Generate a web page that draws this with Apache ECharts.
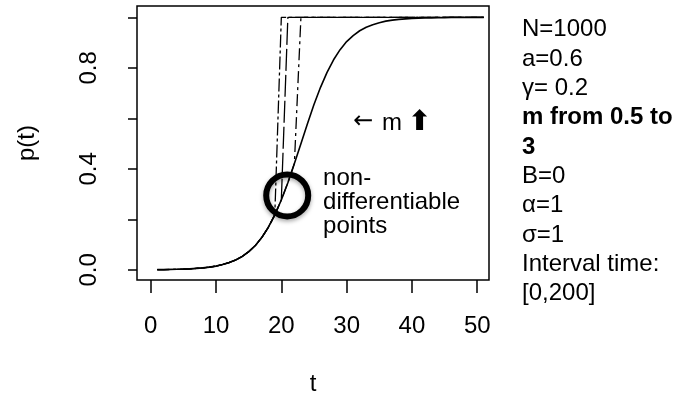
<!DOCTYPE html>
<html>
<head>
<meta charset="utf-8">
<script src="https://cdn.jsdelivr.net/npm/echarts@6/dist/echarts.min.js"></script>
<style>
  html, body { margin: 0; padding: 0; background: #fff; }
  #chart { width: 693px; height: 395px; }
</style>
</head>
<body>
<div id="chart"></div>
<script>
// ---- data ----
const tValues = [1,2,3,4,5,6,7,8,9,10,11,12,13,14,15,16,17,18,19,20,21,22,23,24,25,26,27,28,29,30,31,32,33,34,35,36,37,38,39,40,41,42,43,44,45,46,47,48,49,50,51];
const pSmooth = [0.001,0.0012,0.0017,0.0023,0.003,0.004,0.006,0.008,0.011,0.015,
                 0.021,0.029,0.039,0.053,0.072,0.096,0.128,0.168,0.218,0.277,
                 0.345,0.421,0.5,0.579,0.655,0.723,0.782,0.832,0.872,0.904,
                 0.928,0.947,0.961,0.971,0.979,0.985,0.989,0.992,0.994,0.996,
                 0.997,0.998,0.998,0.999,0.999,1,1,1,1,1,1];
const pDashA = [0.001,0.0012,0.0017,0.0023,0.003,0.004,0.006,0.008,0.011,0.015,
                0.021,0.029,0.039,0.053,0.072,0.096,0.128,0.168,0.218,1,
                1,1,1,1,1,1,1,1,1,1,
                1,1,1,1,1,1,1,1,1,1,
                1,1,1,1,1,1,1,1,1,1,1];
const pDashB = [0.001,0.0012,0.0017,0.0023,0.003,0.004,0.006,0.008,0.011,0.015,
                0.021,0.029,0.039,0.053,0.072,0.096,0.128,0.168,0.218,0.277,
                1,1,1,1,1,1,1,1,1,1,
                1,1,1,1,1,1,1,1,1,1,
                1,1,1,1,1,1,1,1,1,1,1];
const pDashC = [0.001,0.0012,0.0017,0.0023,0.003,0.004,0.006,0.008,0.011,0.015,
                0.021,0.029,0.039,0.053,0.072,0.096,0.128,0.168,0.218,0.277,
                0.345,0.421,1,1,1,1,1,1,1,1,
                1,1,1,1,1,1,1,1,1,1,
                1,1,1,1,1,1,1,1,1,1,1];
const xTicks = [0, 10, 20, 30, 40, 50];
const yTicks = [0, 0.2, 0.4, 0.6, 0.8, 1.0];
const yLabels = [0, 0.4, 0.8];
const sideNotes = ['N=1000', 'a=0.6', 'γ= 0.2', 'm from 0.5 to', '3', 'B=0', 'α=1', 'σ=1', 'Interval time:', '[0,200]'];
const boldNotes = ['m from 0.5 to', '3'];
const noteLines = ['non-', 'differentiable', 'points'];

const FONT = '"Liberation Sans", Arial, Helvetica, sans-serif';

function pairs(ys) { return tValues.map((t, i) => [t, ys[i]]); }

const chart = echarts.init(document.getElementById('chart'), null, { renderer: 'canvas' });

const option = {
  backgroundColor: '#fff',
  animation: false,
  textStyle: { fontFamily: FONT },
  grid: {
    left: 137, right: 204, top: 6, bottom: 115,
    outerBoundsMode: 'none', containLabel: false,
    show: true, borderColor: '#000', borderWidth: 1.5, backgroundColor: 'transparent'
  },
  xAxis: {
    type: 'value', min: -2.1, max: 51.8,
    name: 't', nameLocation: 'middle', nameGap: 92,
    nameTextStyle: { fontSize: 24, color: '#000', fontFamily: FONT },
    axisLine: { show: false, onZero: false },
    splitLine: { show: false },
    axisTick: { show: true, inside: false, length: 13, customValues: xTicks, lineStyle: { color: '#000', width: 1.5 } },
    axisLabel: { customValues: xTicks, margin: 34, fontSize: 24, color: '#000', fontFamily: FONT,
      formatter: v => String(v) }
  },
  yAxis: {
    type: 'value', min: -0.04, max: 1.045,
    name: 'p(t)', nameLocation: 'middle', nameGap: 98,
    nameTextStyle: { fontSize: 24, color: '#000', fontFamily: FONT },
    axisLine: { show: false, onZero: false },
    splitLine: { show: false },
    axisTick: { show: true, inside: false, length: 9, customValues: yTicks, lineStyle: { color: '#000', width: 1.5 } },
    axisLabel: { customValues: yLabels, rotate: 90, margin: 36, fontSize: 24, color: '#000', fontFamily: FONT,
      formatter: v => Number(v).toFixed(1) }
  },
  series: [
    { type: 'line', data: pairs(pDashA), showSymbol: false, symbol: 'none',
      lineStyle: { color: '#000', width: 1.3, type: [13, 3, 3, 3] } },
    { type: 'line', data: pairs(pDashB), showSymbol: false, symbol: 'none',
      lineStyle: { color: '#000', width: 1.3, type: [22, 4] } },
    { type: 'line', data: pairs(pDashC), showSymbol: false, symbol: 'none',
      lineStyle: { color: '#000', width: 1.3, type: [12, 4, 3, 4] } },
    { type: 'line', data: pairs(pSmooth), showSymbol: false, symbol: 'none', smooth: false,
      lineStyle: { color: '#000', width: 1.6, type: 'solid' } }
  ]
};
chart.setOption(option);

// annotations
const graphics = [];
sideNotes.forEach((txt, i) => {
  graphics.push({
    type: 'text', x: 522, y: 29.7 + 29.35 * i,
    style: { text: txt, fill: '#000', verticalAlign: 'middle', align: 'left',
      font: (boldNotes.includes(txt) ? 'bold ' : '') + '24px ' + FONT }
  });
});
const circ = chart.convertToPixel({ gridIndex: 0 }, [20.9, 0.295]);
graphics.push({
  type: 'circle', shape: { cx: circ[0], cy: circ[1], r: 21 },
  style: { fill: 'none', stroke: '#000', lineWidth: 6,
    shadowBlur: 4, shadowColor: 'rgba(0,0,0,0.35)', shadowOffsetY: 2 }
});
const arrPos = chart.convertToPixel({ gridIndex: 0 }, [31.0, 0.585]);
graphics.push({
  type: 'text', x: arrPos[0], y: arrPos[1],
  style: { text: '←', fill: '#000', verticalAlign: 'middle', align: 'left', font: '24px "DejaVu Sans", sans-serif' }
});
const mPos = chart.convertToPixel({ gridIndex: 0 }, [35.4, 0.581]);
graphics.push({
  type: 'text', x: mPos[0], y: mPos[1],
  style: { text: 'm', fill: '#000', verticalAlign: 'middle', align: 'left', font: '24px ' + FONT }
});
const aPos = chart.convertToPixel({ gridIndex: 0 }, [39.4, 0.581]);
graphics.push({
  type: 'text', x: aPos[0], y: aPos[1],
  style: { text: '⬆', fill: '#000', verticalAlign: 'middle', align: 'left', font: 'bold 28px "DejaVu Sans", sans-serif' }
});
noteLines.forEach((txt, i) => {
  const p = chart.convertToPixel({ gridIndex: 0 }, [26.4, 0.364 - 0.095 * i]);
  graphics.push({
    type: 'text', x: p[0], y: p[1],
    style: { text: txt, fill: '#000', verticalAlign: 'middle', align: 'left', font: '24px ' + FONT }
  });
});
chart.setOption({ graphic: graphics });
</script>
</body>
</html>
